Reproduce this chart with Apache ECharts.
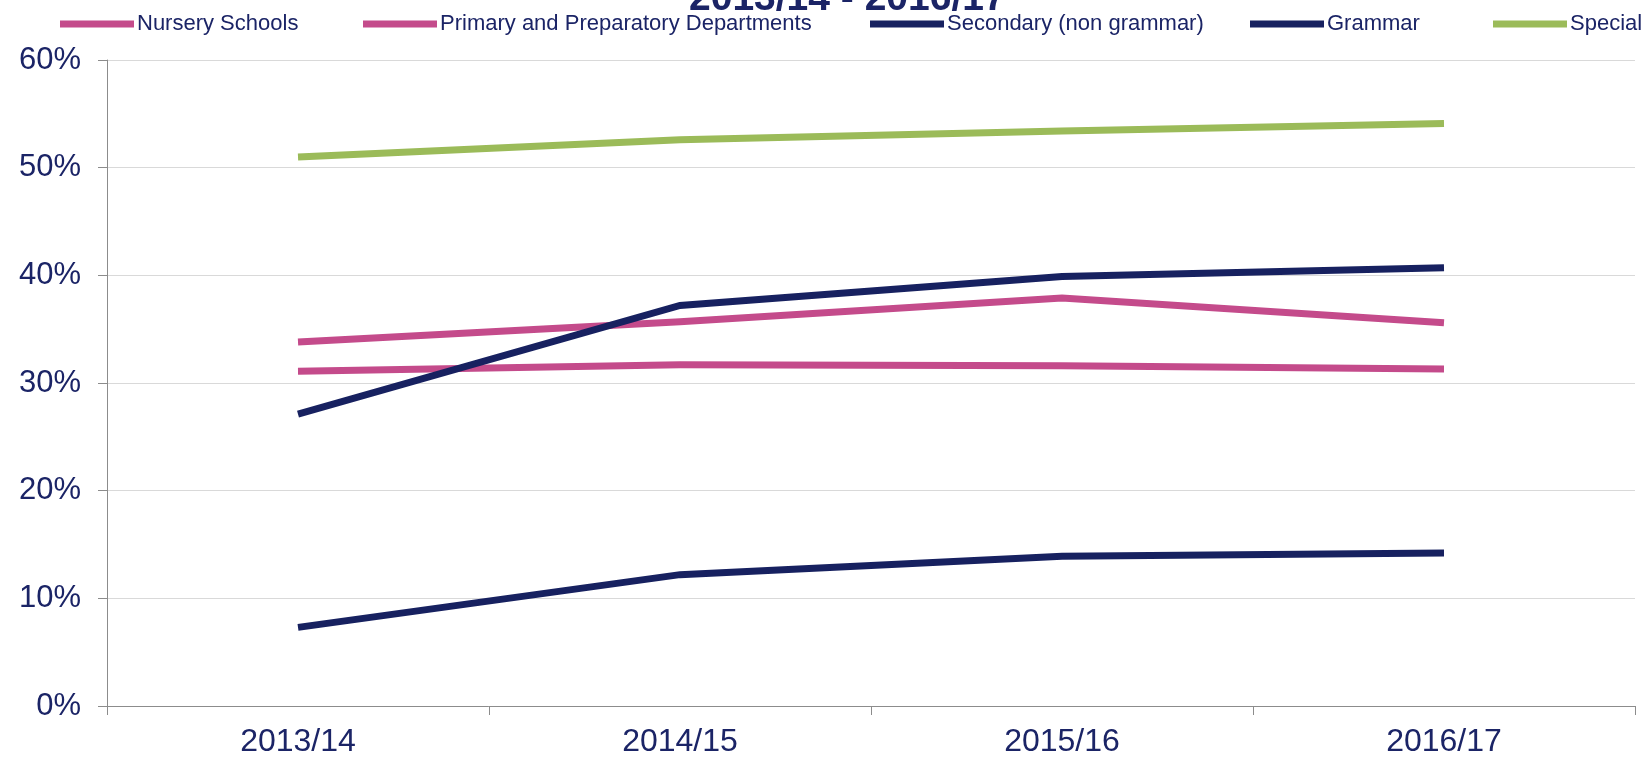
<!DOCTYPE html>
<html><head><meta charset="utf-8">
<script src="https://cdn.jsdelivr.net/npm/echarts@6/dist/echarts.min.js"></script>
<style>html,body{margin:0;padding:0;background:#fff}#c{width:1651px;height:761px}</style>
</head><body><div id="c"></div>
<script>
const categories = ['2013/14', '2014/15', '2015/16', '2016/17'];
const seriesNames = ['Nursery Schools', 'Primary and Preparatory Departments', 'Secondary (non grammar)', 'Grammar', 'Special'];
const nursery = [33.8, 35.7, 37.9, 35.6];
const primary = [31.1, 31.7, 31.6, 31.3];
const secondary = [27.1, 37.2, 39.9, 40.7];
const grammar = [7.3, 12.2, 13.9, 14.2];
const special = [51.0, 52.6, 53.4, 54.1];
const yTicks = [0, 10, 20, 30, 40, 50, 60];
const titleText = '2013/14 - 2016/17';

const colors = ['#c44b8b', '#c44b8b', '#172160', '#172160', '#9bbb59'];
const dataList = [nursery, primary, secondary, grammar, special];
const legendLefts = [55, 358, 865, 1245, 1488];
const navy = '#1b2466';
const font = '"Liberation Sans", Arial, sans-serif';

const chart = echarts.init(document.getElementById('c'));
chart.setOption({
  animation: false,
  title: {
    text: titleText, left: 684, top: -25,
    textStyle: { fontFamily: font, fontSize: 39, fontWeight: 'bold', color: navy }
  },
  legend: seriesNames.map((n, i) => ({
    data: [n], left: legendLefts[i], top: 8, icon: 'rect', itemWidth: 74, itemHeight: 7,
    itemGap: 0, textStyle: { fontFamily: font, fontSize: 22, color: navy, padding: [0, 0, 0, -2] },
    selectedMode: false
  })),
  grid: { left: 107, right: 16, top: 60, bottom: 55, containLabel: false },
  xAxis: {
    type: 'category', data: categories, boundaryGap: true,
    axisLine: { lineStyle: { color: '#8c8c8c', width: 1 } },
    axisTick: { show: true, length: 9, lineStyle: { color: '#8c8c8c' } },
    axisLabel: { fontFamily: font, fontSize: 32, color: navy, margin: 20 },
    splitLine: { show: false }
  },
  yAxis: {
    type: 'value', min: 0, max: 60, interval: 10,
    axisLine: { show: true, lineStyle: { color: '#8c8c8c', width: 1 } },
    axisTick: { show: true, length: 9, lineStyle: { color: '#8c8c8c' } },
    axisLabel: { fontFamily: font, fontSize: 31, color: navy, margin: 26,
      formatter: v => yTicks.includes(v) ? v + '%' : '' },
    splitLine: { show: true, lineStyle: { color: '#d9d9d9', width: 1 } }
  },
  series: seriesNames.map((n, i) => ({
    name: n, type: 'line', data: dataList[i], showSymbol: false, symbol: 'none',
    lineStyle: { color: colors[i], width: 7, cap: 'butt', join: 'miter' },
    itemStyle: { color: colors[i] }
  }))
});
</script></body></html>
